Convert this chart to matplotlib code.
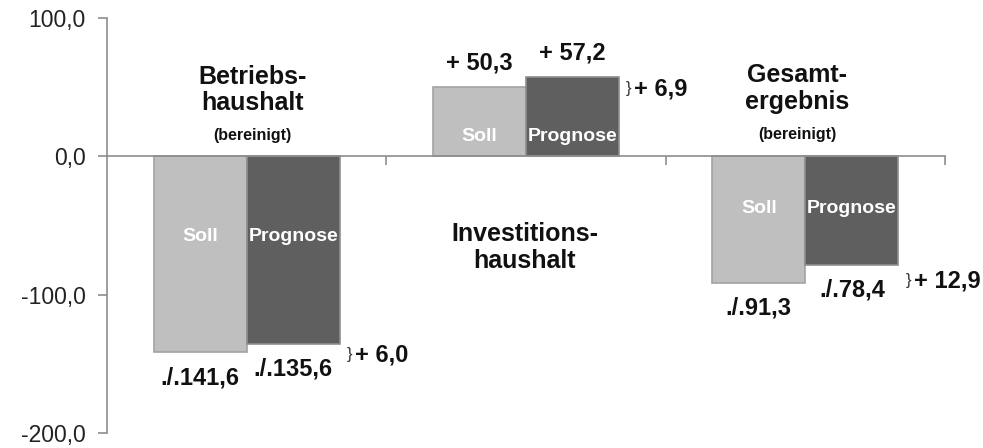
import numpy as np
import matplotlib.pyplot as plt

plt.rcParams['font.family'] = ['Liberation Sans', 'DejaVu Sans']

groups = ['Betriebs-\nhaushalt', 'Investitions-\nhaushalt', 'Gesamt-\nergebnis']
subtitles = ['(bereinigt)', '', '(bereinigt)']
soll = [-141.6, 50.3, -91.3]
prognose = [-135.6, 57.2, -78.4]
diffs = [6.0, 6.9, 12.9]
yticks = [-200, -100, 0, 100]


def fmt(v):
    s = '%.1f' % abs(v)
    s = s.replace('.', ',')
    if v < 0:
        return './.' + s
    return '+ ' + s


def main():
    fig = plt.figure(figsize=(9.83, 4.48), dpi=100)
    ax = fig.add_axes([107 / 983, 15 / 448, 838 / 983, 415 / 448])

    x = np.arange(len(groups))
    w = 1 / 3.
    c_soll, c_prog = '#bfbfbf', '#5f5f5f'
    ax.bar(x - w / 2, soll, w, color=c_soll, edgecolor='#a3a3a3', linewidth=1.2, zorder=2)
    ax.bar(x + w / 2, prognose, w, color=c_prog, edgecolor='#8f8f8f', linewidth=1.2, zorder=2)

    # labels inside bars
    inner_y = [-58, 14, -38]
    for i in range(len(groups)):
        ax.text(x[i] - w / 2, inner_y[i], 'Soll', color='white', fontsize=14,
                fontweight='bold', ha='center', va='center', zorder=3)
        ax.text(x[i] + w / 2, inner_y[i], 'Prognose', color='white', fontsize=14,
                fontweight='bold', ha='center', va='center', zorder=3)

    # value labels
    for i in range(len(groups)):
        for xx, v in [(x[i] - w / 2, soll[i]), (x[i] + w / 2, prognose[i])]:
            off = -10 if v < 0 else 9
            va = 'top' if v < 0 else 'bottom'
            ax.annotate(fmt(v), (xx, v), xytext=(0, off), textcoords='offset points',
                        ha='center', va=va, fontsize=17, fontweight='bold', color='#111111')
        ymid = (soll[i] + prognose[i]) / 2 - 5
        ax.annotate('}', (x[i] + w + 0.025, ymid), ha='left', va='center',
                    fontsize=12, color='#333333')
        ax.annotate('+ %s' % ('%.1f' % diffs[i]).replace('.', ','),
                    (x[i] + w + 0.025, ymid), xytext=(6, 0), textcoords='offset points',
                    ha='left', va='center', fontsize=17, fontweight='bold', color='#111111')

    # group titles
    title_pos = [(0.02, 48), (0.995, -66), (1.97, 49)]
    for i in range(len(groups)):
        ax.text(title_pos[i][0], title_pos[i][1], groups[i], ha='center', va='center',
                fontsize=18, fontweight='bold', linespacing=1.15, color='#111111')
        if subtitles[i]:
            ax.text(title_pos[i][0], title_pos[i][1] - 33, subtitles[i], ha='center',
                    va='center', fontsize=11.5, fontweight='bold', color='#111111')

    ax.set_xlim(-0.5, 2.5)
    ax.set_ylim(-200, 100)
    ax.set_yticks(yticks)
    ax.set_yticklabels([('%.1f' % t).replace('.', ',') for t in yticks],
                       fontsize=16.5, color='#222222')
    ax.set_xticks([0.5, 1.5, 2.5])
    ax.set_xticklabels([])
    ax.spines['top'].set_visible(False)
    ax.spines['right'].set_visible(False)
    ax.spines['bottom'].set_position(('data', 0))
    for s in ['left', 'bottom']:
        ax.spines[s].set_color('#8c8c8c')
        ax.spines[s].set_linewidth(1.2)
    ax.tick_params(axis='y', direction='out', length=6.5, width=1.2, color='#8c8c8c', pad=9)
    ax.tick_params(axis='x', direction='out', length=6.5, width=1.2, color='#8c8c8c')

    fig.savefig('out.png', dpi=100)


if __name__ == "__main__":
    main()
